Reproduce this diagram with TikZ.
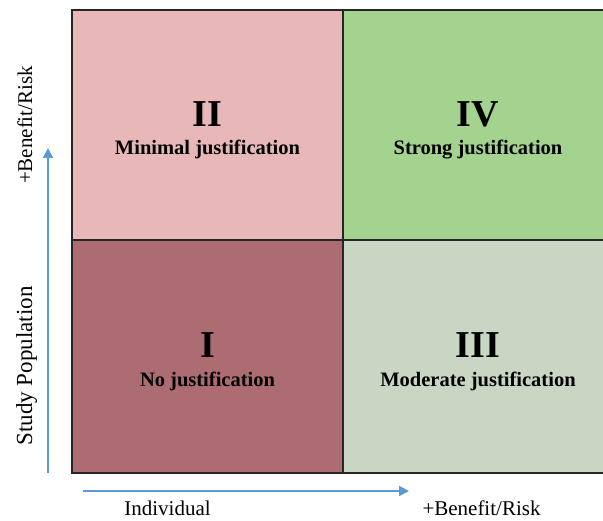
\documentclass[tikz,border=0pt]{standalone}
\usepackage{fontspec}
\setmainfont{Liberation Serif}
\usetikzlibrary{arrows.meta}
\definecolor{nojust}{HTML}{AD6B72}
\definecolor{minjust}{HTML}{E8B7B7}
\definecolor{modjust}{HTML}{C9D6C4}
\definecolor{strongjust}{HTML}{A4D28F}
\definecolor{axisblue}{HTML}{5B9BD5}
\begin{document}
\begin{tikzpicture}[x=1pt,y=-1pt,
        axisarrow/.style={draw=axisblue, line width=2pt, -{Triangle[length=10pt,width=10pt]}}]
        \useasboundingbox (0,0) rectangle (603,521);

        \begin{scope}[every node/.style={rectangle, draw=black!85, line width=1.5pt, inner sep=0pt}]
          \node[fill=nojust,     minimum width=271pt, minimum height=233pt] (q1) at (207.5,356.5) {};
          \node[fill=minjust,    minimum width=271pt, minimum height=230pt] (q2) at (207.5,125)   {};
          \node[fill=modjust,    minimum width=262pt, minimum height=233pt] (q3) at (474,356.5)   {};
          \node[fill=strongjust, minimum width=262pt, minimum height=230pt] (q4) at (474,125)     {};
        \end{scope}

        \begin{scope}[every node/.style={anchor=base, inner sep=0pt, font=\bfseries\fontsize{38}{40}\selectfont}]
          \node (n1) at (207.5,358) {I};
          \node (n2) at (207.5,127) {II};
          \node (n3) at (478,358)   {III};
          \node (n4) at (478,127)   {IV};
        \end{scope}

        \begin{scope}[every node/.style={anchor=base, inner sep=0pt, font=\bfseries\fontsize{20.5}{22}\selectfont}]
          \node (t1) at (207.5,387) {No justification};
          \node (t2) at (207.5,155) {Minimal justification};
          \node (t3) at (478,387)   {Moderate justification};
          \node (t4) at (478,155)   {Strong justification};
        \end{scope}

        \begin{scope}[every node/.style={anchor=base, inner sep=0pt, font=\fontsize{21}{23}\selectfont}]
          \node (xlow)  at (167.5,515)            {Individual};
          \node (xhigh) at (481.5,515)            {+Benefit/Risk};
          \node[rotate=90, font=\fontsize{23}{25}\selectfont] (ylow) at (32,366) {Study Population};
          \node[rotate=90] (yhigh) at (32,125)    {+Benefit/Risk};
        \end{scope}

        \coordinate (ystart) at (48,473);
        \coordinate (yend)   at (48,148);
        \coordinate (xstart) at (83,491);
        \coordinate (xend)   at (409,491);

        \draw[axisarrow] (ystart) -- (yend);
        \draw[axisarrow] (xstart) -- (xend);

      \end{tikzpicture}
\end{document}
